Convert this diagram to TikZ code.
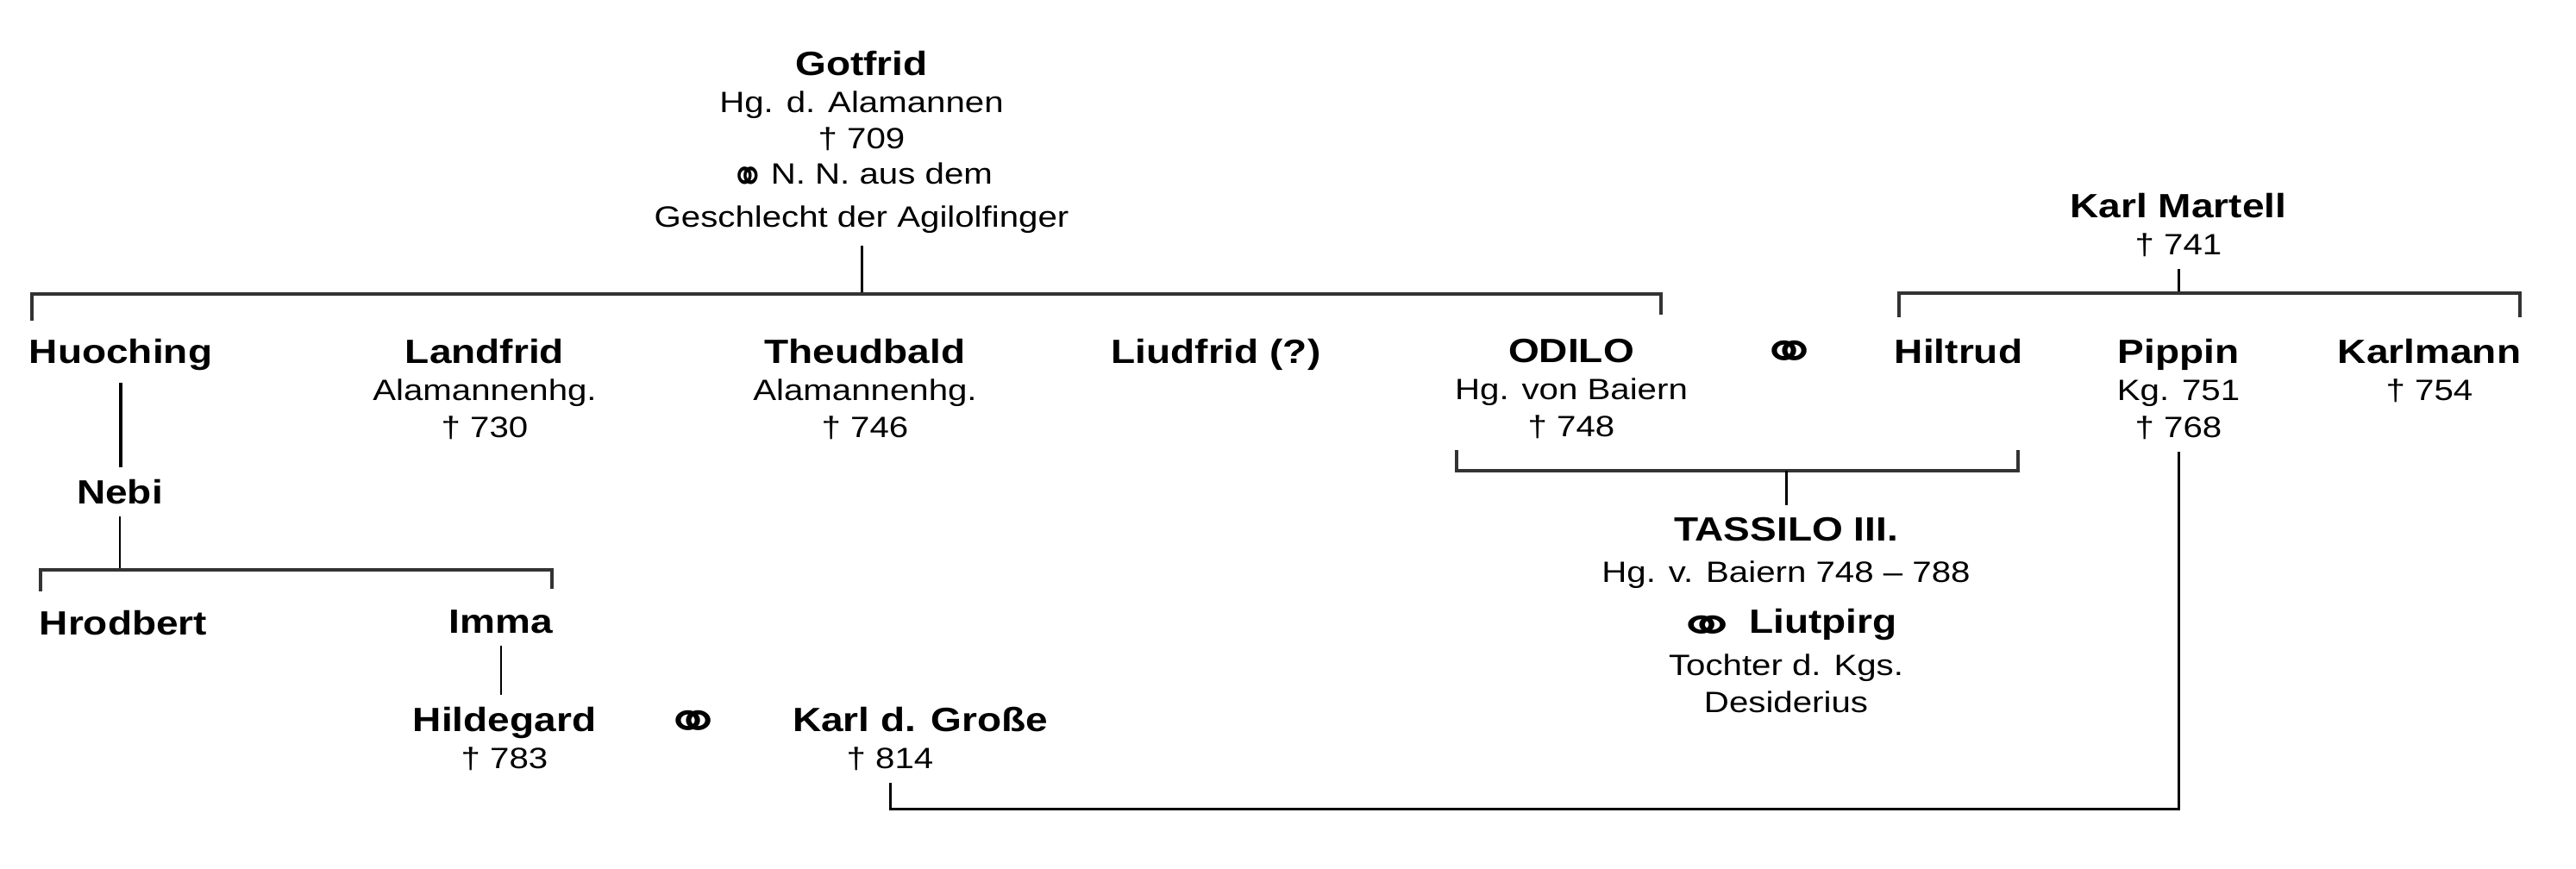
\documentclass[tikz,border=0pt]{standalone}
\usepackage{fontspec}
\setmainfont{Liberation Sans}[FakeStretch=1.18]
\newfontfamily\marrfont{DejaVu Sans}
\newcommand{\who}[1]{{\fontsize{11.1}{12.3}\selectfont\bfseries #1}}
\newcommand{\marr}[2]{\raisebox{-3.5pt}{\scalebox{#1}[#2]{\marrfont\fontsize{9.7}{12}\selectfont ⚭}}}

\begin{document}
\begin{tikzpicture}[
  person/.style = {anchor=north, align=center, inner sep=0pt, outer sep=4pt,
                   font=\fontsize{9.7}{12.3}\selectfont},
  marriage/.style = {inner sep=0pt},
  link/.style = {line width=0.85pt},
  bar/.style = {line width=1pt, black!80}
]
\useasboundingbox (0,0) rectangle (29.87,10.08);

% Gotfrid and Karl Martell
\node[person] (gotfrid) at (9.99,9.63) {\who{Gotfrid}\\Hg. d. Alamannen\\[-0.5pt]† 709\\[-0.5pt]\marr{1.39}{1.74}\kern2pt N. N. aus dem\\[2pt]Geschlecht der Agilolfinger};
\node[person] (martell) at (25.26,7.98) {\who{Karl Martell}\\† 741};

% their children
\node[person] (huoching) at (1.40,6.29) {\who{Huoching}};
\node[person] (landfrid) at (5.62,6.29) {\who{Landfrid}\\Alamannenhg.\\† 730};
\node[person] (theudbald) at (10.03,6.29) {\who{Theudbald}\\Alamannenhg.\\† 746};
\node[person] (liudfrid) at (14.10,6.29) {\who{Liudfrid (?)}};
\node[person] (odilo) at (18.22,6.29) {\who{ODILO}\\Hg. von Baiern\\† 748};
\node[marriage] (m1) at (20.75,5.95) {\marr{2.42}{1.98}};
\node[person] (hiltrud) at (22.71,6.29) {\who{Hiltrud}};
\node[person] (pippin) at (25.26,6.29) {\who{Pippin}\\Kg. 751\\† 768};
\node[person] (karlmann) at (28.17,6.29) {\who{Karlmann}\\† 754};

% Huoching's line
\node[person] (nebi) at (1.39,4.66) {\who{Nebi}};
\node[person] (hrodbert) at (1.43,3.14) {\who{Hrodbert}};
\node[person] (imma) at (5.81,3.14) {\who{Imma}};
\node[person] (hildegard) at (5.85,2.02) {\who{Hildegard}\\† 783};
\node[marriage] (m2) at (8.04,1.66) {\marr{2.42}{1.98}};
\node[person] (karl) at (10.67,2.02) {\who{Karl d. Große}\\\hspace*{-0.7cm}† 814};

% Odilo's son
\node[person] (tassilo) at (20.71,4.22) {\who{TASSILO III.}\\[1.5pt]Hg. v. Baiern 748 -- 788\\[4.5pt]\marr{2.6}{1.82} \who{Liutpirg}\\[1.5pt]Tochter d. Kgs.\\Desiderius};

% Gotfrid's children
\coordinate (gl) at (0.37,6.67);
\coordinate (gr) at (19.26,6.67);
\draw[link] (gotfrid) -- (gotfrid |- gl);
\draw[bar] ([yshift=-0.31cm]gl) -- (gl) -- (gr) -- ([yshift=-0.24cm]gr);

% Huoching and Nebi
\draw[line width=1.1pt] (huoching) -- (huoching |- nebi.north);
\coordinate (nl) at (0.47,3.47);
\coordinate (nr) at (6.40,3.47);
\draw[link] (nebi) -- (nebi |- nl);
\draw[bar] ([yshift=-0.25cm]nl) -- (nl) -- (nr) -- ([yshift=-0.22cm]nr);
\draw[link] (imma) -- (imma |- hildegard.north);

% Odilo and Hiltrud
\coordinate (odl) at (16.89,4.62);
\coordinate (odr) at (23.40,4.62);
\draw[bar] ([yshift=0.24cm]odl) -- (odl) -- (odr) -- ([yshift=0.24cm]odr);
\draw[link] (tassilo |- odl) -- (tassilo);

% Karl Martell's children
\coordinate (ml) at (22.02,6.68);
\coordinate (mr) at (29.22,6.68);
\draw[link] (martell) -- (martell |- ml);
\draw[bar] ([yshift=-0.28cm]ml) -- (ml) -- (mr) -- ([yshift=-0.28cm]mr);

% Pippin to Karl d. Grosse
\coordinate (low) at (25.26,0.69);
\draw[link] (pippin) -- (low) -| ([xshift=-0.35cm]karl.south);

\end{tikzpicture}
\end{document}
